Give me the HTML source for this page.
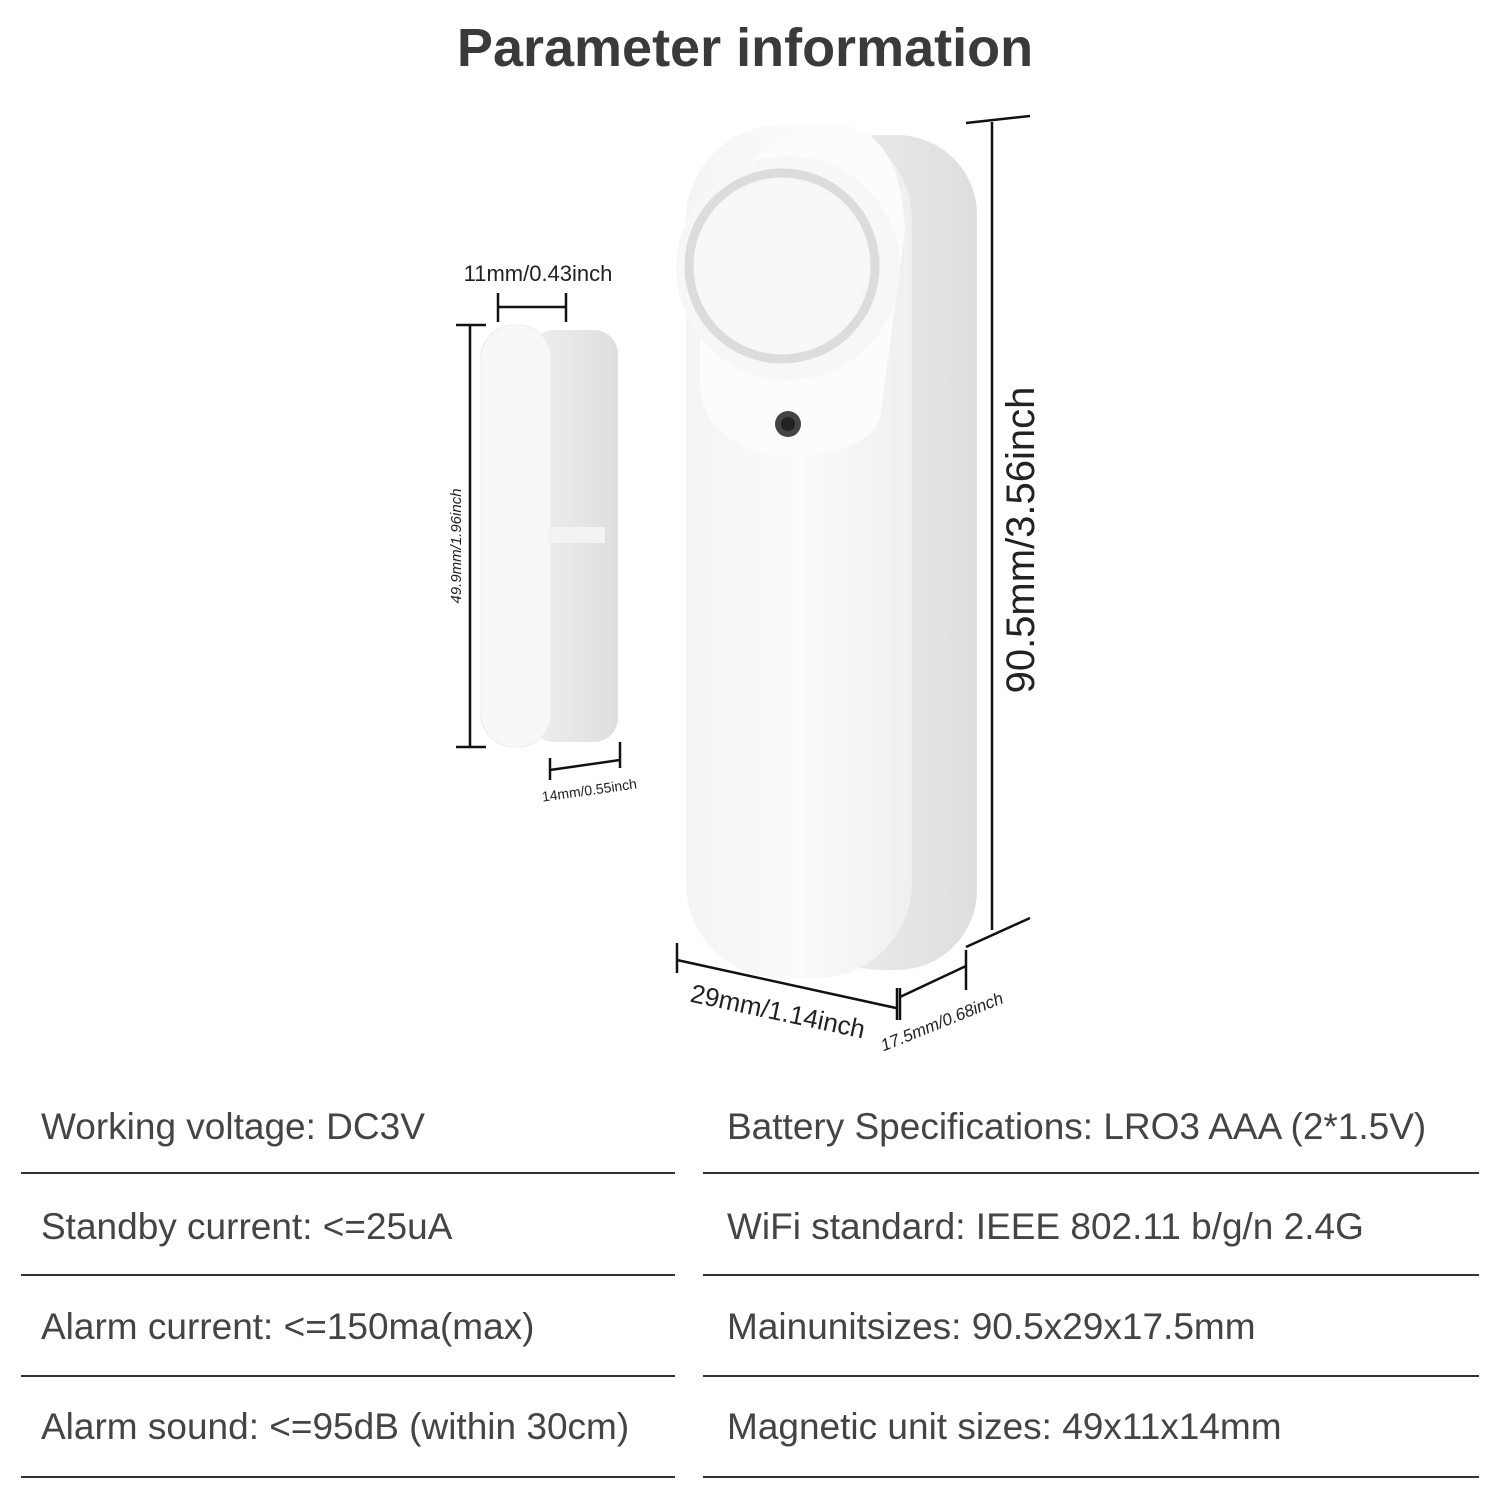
<!DOCTYPE html>
<html><head><meta charset="utf-8"><style>
html,body{margin:0;padding:0;background:#fff;}
body{width:1500px;height:1500px;position:relative;overflow:hidden;font-family:"Liberation Sans","DejaVu Sans",sans-serif;}
</style></head><body>
<svg width="1500" height="1500" viewBox="0 0 1500 1500" xmlns="http://www.w3.org/2000/svg" style="position:absolute;left:0;top:0">
<defs>
<linearGradient id="side" x1="0" x2="1"><stop offset="0" stop-color="#efeff0"/><stop offset="1" stop-color="#dedee0"/></linearGradient>
<linearGradient id="front" x1="0" x2="1"><stop offset="0" stop-color="#f4f4f5"/><stop offset="0.5" stop-color="#fbfbfb"/><stop offset="1" stop-color="#efeff0"/></linearGradient>
</defs>
<text x="745" y="66" text-anchor="middle" font-size="54" font-weight="bold" fill="#3a3a3a">Parameter information</text>

<rect x="800" y="135" width="177" height="835" rx="80" fill="url(#side)"/>
<rect x="686" y="125" width="226" height="853" rx="95" fill="url(#front)"/>
<path d="M700 250 Q740 130 840 125 Q900 130 905 230 L880 420 Q860 460 770 455 Q700 440 700 380Z" fill="#fcfcfc"/>
<circle cx="788" cy="268" r="112" fill="#f7f7f8"/>
<circle cx="782" cy="266" r="93" fill="none" stroke="#dcdcde" stroke-width="9"/>
<circle cx="780" cy="266" r="86" fill="#f8f8f9"/>
<circle cx="788" cy="424" r="13" fill="#444"/>
<circle cx="788" cy="424" r="7" fill="#222"/>

<rect x="530" y="330" width="88" height="412" rx="24" fill="url(#side)"/>
<rect x="481" y="325" width="70" height="422" rx="33" fill="#f8f8f9" stroke="#ebebec" stroke-width="1"/>
<rect x="548" y="527" width="57" height="16" fill="#f3f3f4"/>

<g stroke="#111" stroke-width="2.5" fill="none">
<line x1="992" y1="122" x2="992" y2="930"/>
<line x1="966" y1="123" x2="1030" y2="116"/>
<line x1="966" y1="947" x2="1030" y2="918"/>
<line x1="677" y1="943" x2="677" y2="973"/>
<line x1="677" y1="960" x2="896" y2="1008"/>
<line x1="897" y1="988" x2="897" y2="1020"/>
<line x1="900" y1="988" x2="900" y2="1020"/>
<line x1="900" y1="997" x2="966" y2="966"/>
<line x1="966" y1="950" x2="966" y2="990"/>
<line x1="470" y1="325" x2="470" y2="747"/>
<line x1="456" y1="325" x2="486" y2="325"/>
<line x1="456" y1="747" x2="486" y2="747"/>
<line x1="498" y1="307" x2="566" y2="307"/>
<line x1="498" y1="293" x2="498" y2="322"/>
<line x1="566" y1="293" x2="566" y2="322"/>
<line x1="550" y1="770" x2="620" y2="760"/>
<line x1="550" y1="758" x2="550" y2="780"/>
<line x1="620" y1="742" x2="620" y2="768"/>
</g>
<g fill="#222">
<text transform="translate(1034,540) rotate(-90)" text-anchor="middle" font-size="40">90.5mm/3.56inch</text>
<text transform="translate(776,1020) rotate(12)" text-anchor="middle" font-size="26">29mm/1.14inch</text>
<text transform="translate(944,1027) rotate(-22)" text-anchor="middle" font-size="17" font-style="italic">17.5mm/0.68inch</text>
<text x="538" y="281" text-anchor="middle" font-size="22">11mm/0.43inch</text>
<text transform="translate(461,546) rotate(-90)" text-anchor="middle" font-size="15" font-style="italic">49.9mm/1.96inch</text>
<text transform="translate(590,795) rotate(-8)" text-anchor="middle" font-size="14">14mm/0.55inch</text>
</g>

<g font-size="37" fill="#444">
<text x="41" y="1139">Working voltage: DC3V</text>
<text x="41" y="1239">Standby current: &lt;=25uA</text>
<text x="41" y="1339">Alarm current: &lt;=150ma(max)</text>
<text x="41" y="1439">Alarm sound: &lt;=95dB (within 30cm)</text>
<text x="727" y="1139">Battery Specifications: LRO3 AAA (2*1.5V)</text>
<text x="727" y="1239">WiFi standard: IEEE 802.11 b/g/n 2.4G</text>
<text x="727" y="1339">Mainunitsizes: 90.5x29x17.5mm</text>
<text x="727" y="1439">Magnetic unit sizes: 49x11x14mm</text>
</g>
<g stroke="#333" stroke-width="2">
<line x1="21" y1="1173" x2="675" y2="1173"/><line x1="703" y1="1173" x2="1479" y2="1173"/>
<line x1="21" y1="1275" x2="675" y2="1275"/><line x1="703" y1="1275" x2="1479" y2="1275"/>
<line x1="21" y1="1376" x2="675" y2="1376"/><line x1="703" y1="1376" x2="1479" y2="1376"/>
<line x1="21" y1="1477" x2="675" y2="1477"/><line x1="703" y1="1477" x2="1479" y2="1477"/>
</g>
</svg>
</body></html>
